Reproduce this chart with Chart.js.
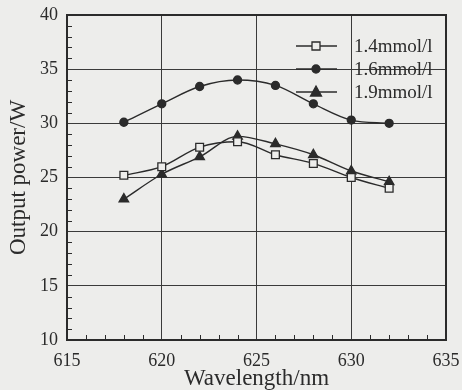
<!DOCTYPE html>
<html>
<head>
<meta charset="utf-8">
<script src="https://cdn.jsdelivr.net/npm/chart.js@4/dist/chart.umd.min.js"></script>
<style>
  html, body { margin:0; padding:0; background:#ededeb; }
  #wrap { width:462px; height:390px; }
</style>
</head>
<body>
<div id="wrap"><canvas id="powerChart" width="462" height="390"></canvas></div>
<script>
// wavelength (nm)
var waveList = [618, 620, 622, 624, 626, 628, 630, 632];
// output power (W) for each concentration
var power14 = [25.2, 26.0, 27.8, 28.3, 27.1, 26.3, 25.0, 24.0];
var power16 = [30.1, 31.8, 33.4, 34.0, 33.5, 31.8, 30.3, 30.0];
var power19 = [23.0, 25.3, 26.9, 28.8, 28.1, 27.1, 25.6, 24.6];
var seriesLabels = ["1.4mmol/l", "1.6mmol/l", "1.9mmol/l"];
var xTicks = [615, 620, 625, 630, 635];
var yTicks = [10, 15, 20, 25, 30, 35, 40];

var ink = "#2b2b2b";
var bg = "#ededeb";
var serif = "'Liberation Serif', 'DejaVu Serif', serif";

function toPoints(vals){
	var out = [];
	for(let i=0; i<waveList.length; i++){
		out.push({x: waveList[i], y: vals[i]});
	}
	return out;
}

var pointStyles = ["rect", "circle", "triangle"];
var pointSizes = [5.5, 4, 5.5];
var pointFills = [bg, ink, ink];
var allVals = [power14, power16, power19];

var datasets = [];
for(let i=0; i<3; i++){
	datasets.push({
		label: seriesLabels[i],
		data: toPoints(allVals[i]),
		borderColor: ink,
		borderWidth: 1.4,
		backgroundColor: pointFills[i],
		pointStyle: pointStyles[i],
		pointRadius: pointSizes[i],
		pointBorderColor: ink,
		pointBorderWidth: 1.3,
		pointBackgroundColor: pointFills[i],
		cubicInterpolationMode: "monotone",
		fill: false
	});
}

// minor ticks, frame and legend drawn on top of the chart
var extras = {
	id: "extras",
	afterDraw: function(chart){
		var ctx = chart.ctx;
		var xs = chart.scales.x, ys = chart.scales.y;
		var a = chart.chartArea;
		ctx.save();
		ctx.strokeStyle = ink;
		ctx.lineWidth = 1;
		ctx.beginPath();
		for(let v=616; v<635; v++){
			if(v % 5 === 0) continue;
			var px = Math.round(xs.getPixelForValue(v)) + 0.5;
			ctx.moveTo(px, a.bottom);
			ctx.lineTo(px, a.bottom - 5);
		}
		for(let v=11; v<40; v++){
			if(v % 5 === 0) continue;
			var py = Math.round(ys.getPixelForValue(v)) + 0.5;
			ctx.moveTo(a.left, py);
			ctx.lineTo(a.left + 5, py);
		}
		ctx.stroke();
		// frame
		ctx.lineWidth = 2;
		ctx.strokeRect(a.left, a.top, a.right - a.left, a.bottom - a.top);

		// legend (line + marker + text)
		var ly = [46, 69, 92];
		ctx.font = "19px " + serif;
		ctx.textBaseline = "middle";
		ctx.textAlign = "left";
		for(let i=0; i<3; i++){
			ctx.lineWidth = 1.4;
			ctx.strokeStyle = ink;
			ctx.beginPath();
			ctx.moveTo(296, ly[i]);
			ctx.lineTo(337, ly[i]);
			ctx.stroke();
			ctx.fillStyle = pointFills[i];
			ctx.lineWidth = 1.3;
			ctx.beginPath();
			if(i === 0){
				ctx.rect(316 - 4, ly[i] - 4, 8, 8);
			} else if(i === 1){
				ctx.arc(316, ly[i], 4, 0, Math.PI * 2);
			} else {
				ctx.moveTo(316, ly[i] - 6);
				ctx.lineTo(321.5, ly[i] + 4);
				ctx.lineTo(310.5, ly[i] + 4);
				ctx.closePath();
			}
			ctx.fill();
			ctx.stroke();
			ctx.fillStyle = ink;
			ctx.fillText(seriesLabels[i], 354, ly[i] + 1);
		}
		ctx.restore();
	}
};

new Chart(document.getElementById("powerChart"), {
	type: "line",
	data: { datasets: datasets },
	plugins: [extras],
	options: {
		responsive: false,
		animation: false,
		events: [],
		layout: { padding: { left: 0, right: 16, top: 15, bottom: 0 } },
		plugins: {
			legend: { display: false },
			tooltip: { enabled: false }
		},
		scales: {
			x: {
				type: "linear",
				min: 615, max: 635,
				afterBuildTicks: function(s){ s.ticks = xTicks.map(function(v){ return {value: v}; }); },
				afterFit: function(s){ s.height = 50; s.paddingLeft = 0; s.paddingRight = 0; },
				grid: { color: "#3a3a3a", lineWidth: 1, drawTicks: false },
				border: { display: false },
				ticks: { color: ink, padding: 10, maxRotation: 0, font: { family: serif, size: 18 } },
				title: { display: true, text: "Wavelength/nm", color: ink, padding: { top: -4, bottom: 0 }, font: { family: serif, size: 23, lineHeight: 1 } }
			},
			y: {
				min: 10, max: 40,
				afterBuildTicks: function(s){ s.ticks = yTicks.map(function(v){ return {value: v}; }); },
				afterFit: function(s){ s.width = 67; s.paddingTop = 0; s.paddingBottom = 0; },
				grid: { color: "#3a3a3a", lineWidth: 1, drawTicks: false },
				border: { display: false },
				ticks: { color: ink, padding: 9, font: { family: serif, size: 18 } },
				title: { display: true, text: "Output power/W", color: ink, padding: { top: 7, bottom: 0 }, font: { family: serif, size: 23, lineHeight: 1 } }
			}
		}
	}
});
</script>
</body>
</html>
